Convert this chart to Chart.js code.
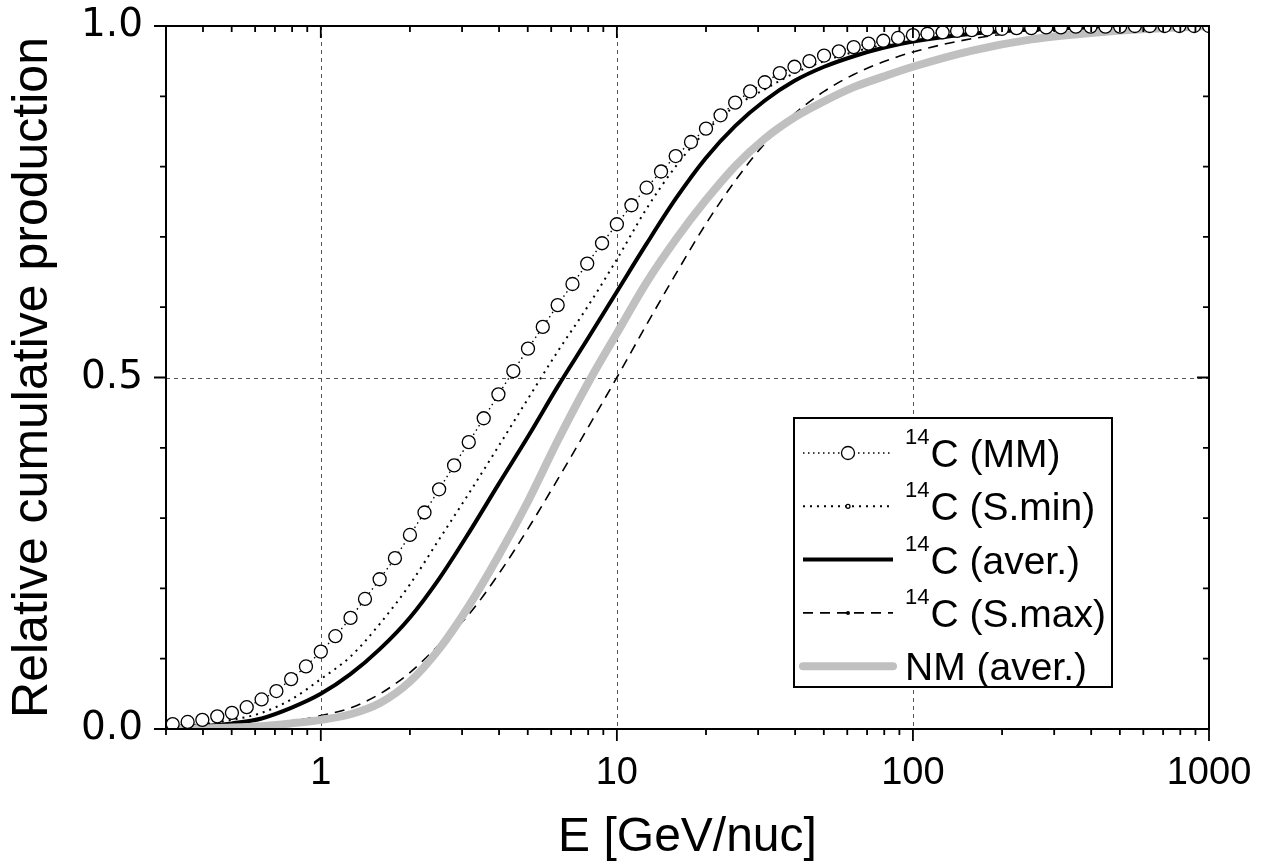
<!DOCTYPE html>
<html><head><meta charset="utf-8">
<script src="https://cdn.jsdelivr.net/npm/chart.js@4.4.1/dist/chart.umd.min.js"></script>
<style>html,body{margin:0;padding:0;background:#fff;}canvas{display:block;}</style>
</head><body>
<canvas id="c" width="1263" height="867"></canvas>
<script>
// ---- data ----
const circleEnergies = [0.316,0.355,0.398,0.447,0.501,0.562,0.631,0.708,0.794,0.891,
  1,1.12,1.26,1.41,1.58,1.78,2,2.24,2.51,2.82,3.16,3.55,3.98,4.47,5.01,5.62,6.31,7.08,7.94,8.91,
  10,11.2,12.6,14.1,15.8,17.8,20,22.4,25.1,28.2,31.6,35.5,39.8,44.7,50.1,56.2,63.1,70.8,79.4,89.1,
  100,112,126,141,158,178,200,224,251,282,316,355,398,447,501,562,631,708,794,891,1000];
const mmValues = [0.007,0.010,0.013,0.018,0.023,0.031,0.042,0.054,0.071,0.089,
  0.110,0.132,0.158,0.185,0.213,0.243,0.276,0.308,0.341,0.375,
  0.408,0.442,0.476,0.509,0.541,0.572,0.603,0.633,0.662,0.691,
  0.718,0.745,0.770,0.793,0.815,0.835,0.854,0.873,0.891,0.907,
  0.920,0.933,0.942,0.950,0.958,0.964,0.970,0.975,0.979,0.983,
  0.987,0.989,0.991,0.993,0.994,0.995,0.996,0.997,0.997,0.998,
  0.998,0.999,0.999,0.999,0.999,1.0,1.0,1.0,1.0,1.0,1.0];
const lineEnergies = [0.3,0.398,0.501,0.631,0.794,1,1.259,1.585,1.995,2.512,3.162,3.981,5.012,6.31,7.943,
  10,12.59,15.85,19.95,25.12,31.62,39.81,50.12,63.1,79.43,100,158.5,251.2,398.1,631,1000];
const sminValues = [0.004,0.007,0.013,0.023,0.042,0.071,0.103,0.150,0.205,0.270,0.335,0.402,0.470,0.537,0.600,
  0.668,0.740,0.801,0.850,0.886,0.910,0.933,0.950,0.963,0.973,0.980,0.990,0.996,0.998,0.999,1.0];
const averValues = [0.002,0.004,0.008,0.015,0.030,0.050,0.078,0.114,0.158,0.214,0.279,0.348,0.416,0.487,0.554,
  0.622,0.690,0.755,0.812,0.858,0.894,0.922,0.942,0.957,0.969,0.978,0.989,0.995,0.998,0.999,1.0];
const smaxValues = [0.001,0.002,0.003,0.006,0.011,0.019,0.030,0.050,0.080,0.120,0.163,0.220,0.285,0.355,0.427,
  0.500,0.575,0.648,0.718,0.780,0.833,0.875,0.907,0.931,0.949,0.963,0.982,0.992,0.997,0.999,1.0];
const nmValues = [0.000,0.001,0.002,0.004,0.008,0.013,0.021,0.037,0.067,0.114,0.175,0.246,0.324,0.410,0.490,
  0.563,0.635,0.697,0.752,0.801,0.840,0.870,0.893,0.913,0.928,0.942,0.965,0.981,0.990,0.996,1.0];
const xTickLabels = [1, 10, 100, 1000];
const yTickLabels = [0, 0.5, 1.0];
const xGrid = [1, 10, 100];
const yGrid = [0.5];
const legendItems = [
  {sup:'14', text:'C (MM)', ds:0, marker:'bigCircle'},
  {sup:'14', text:'C (S.min)', ds:1, marker:'smallCircle'},
  {sup:'14', text:'C (aver.)', ds:2, marker:'none'},
  {sup:'14', text:'C (S.max)', ds:3, marker:'dot'},
  {sup:'', text:'NM (aver.)', ds:4, marker:'none'}
];

const FONT = "Arial, 'Liberation Sans', Helvetica, sans-serif";
const pts = (xs, ys) => xs.map((e, i) => ({x: e, y: ys[i]}));
const noPad = s => { s.paddingTop = 0; s.paddingBottom = 0; s.paddingLeft = 0; s.paddingRight = 0; };

const decor = {
  id: 'decor',
  beforeDatasetsDraw(chart) {
    const {ctx, chartArea: a, scales: {x, y}} = chart;
    ctx.save();
    ctx.strokeStyle = '#555'; ctx.lineWidth = 1; ctx.setLineDash([4, 4]);
    xGrid.forEach(v => { const p = Math.round(x.getPixelForValue(v)) + 0.5;
      ctx.beginPath(); ctx.moveTo(p, a.top); ctx.lineTo(p, a.bottom); ctx.stroke(); });
    yGrid.forEach(v => { const p = Math.round(y.getPixelForValue(v)) + 0.5;
      ctx.beginPath(); ctx.moveTo(a.left, p); ctx.lineTo(a.right, p); ctx.stroke(); });
    ctx.restore();
  },
  afterDraw(chart) {
    const {ctx, chartArea: a, scales: {x, y}} = chart;
    ctx.save();
    ctx.strokeStyle = '#000'; ctx.lineWidth = 2; ctx.setLineDash([]);
    ctx.strokeRect(a.left, a.top, a.right - a.left, a.bottom - a.top);
    const xt = [];
    for (let d = 0.1; d <= 100; d *= 10) for (let m = 1; m <= 9; m++) {
      const v = +(m * d).toPrecision(3); if (v >= 0.3 && v <= 1000) xt.push({v, major: m === 1});
    }
    xt.push({v: 1000, major: true});
    ctx.lineWidth = 1.8;
    xt.forEach(t => { const p = x.getPixelForValue(t.v); const L = t.major ? 12 : 6;
      ctx.beginPath(); ctx.moveTo(p, a.bottom); ctx.lineTo(p, a.bottom + L);
      ctx.moveTo(p, a.top); ctx.lineTo(p, a.top + L); ctx.stroke(); });
    for (let i = 0; i <= 10; i++) { const v = i / 10; const p = y.getPixelForValue(v);
      const L = (i % 5 === 0) ? 12 : 6;
      ctx.beginPath(); ctx.moveTo(a.left - L, p); ctx.lineTo(a.left, p);
      ctx.moveTo(a.right, p); ctx.lineTo(a.right - L, p); ctx.stroke(); }
    // legend
    const bx0 = a.right - 415, bx1 = a.right - 97, by0 = a.top + 392, by1 = a.top + 661;
    ctx.fillStyle = '#fff'; ctx.fillRect(bx0, by0, bx1 - bx0, by1 - by0);
    ctx.lineWidth = 2; ctx.strokeStyle = '#000'; ctx.strokeRect(bx0, by0, bx1 - bx0, by1 - by0);
    legendItems.forEach((it, i) => {
      const ds = chart.data.datasets[it.ds];
      const ry = by0 + 35 + i * 53.3;
      const l0 = bx0 + 9, l1 = bx0 + 99, cx = (l0 + l1) / 2;
      ctx.save();
      ctx.strokeStyle = ds.borderColor; ctx.lineWidth = ds.borderWidth;
      ctx.setLineDash(ds.borderDash || []); ctx.lineCap = ds.borderCapStyle || 'butt';
      ctx.beginPath(); ctx.moveTo(l0, ry); ctx.lineTo(l1, ry); ctx.stroke();
      ctx.setLineDash([]); ctx.lineWidth = 1.3; ctx.strokeStyle = '#000';
      if (it.marker === 'bigCircle') { ctx.fillStyle = '#fff'; ctx.beginPath(); ctx.arc(cx, ry, 6.5, 0, 2 * Math.PI); ctx.fill(); ctx.stroke(); }
      if (it.marker === 'smallCircle') { ctx.fillStyle = '#fff'; ctx.beginPath(); ctx.arc(cx, ry, 2, 0, 2 * Math.PI); ctx.fill(); ctx.stroke(); }
      if (it.marker === 'dot') { ctx.fillStyle = '#000'; ctx.beginPath(); ctx.arc(cx, ry, 2, 0, 2 * Math.PI); ctx.fill(); }
      ctx.restore();
      ctx.fillStyle = '#000'; ctx.textAlign = 'left'; ctx.textBaseline = 'alphabetic';
      let tx = bx0 + 111;
      if (it.sup) { ctx.font = '22px ' + FONT; ctx.fillText(it.sup, tx, ry - 9); tx += ctx.measureText(it.sup).width + 1; }
      ctx.font = '39px ' + FONT; ctx.fillText(it.text, tx, ry + 14);
    });
    ctx.restore();
  }
};

new Chart(document.getElementById('c'), {
  type: 'line',
  data: {
    datasets: [
      {label: '14C (MM)', data: pts(circleEnergies, mmValues), borderColor: '#000', borderWidth: 1.4,
        borderDash: [1.5, 3.5], pointRadius: 6.5, pointBackgroundColor: '#fff', pointBorderColor: '#000',
        pointBorderWidth: 1.3, tension: 0, order: 0},
      {label: '14C (S.min)', data: pts(lineEnergies, sminValues), borderColor: '#000', borderWidth: 2,
        borderDash: [2, 5], pointRadius: 0, cubicInterpolationMode: 'monotone', order: 3},
      {label: '14C (aver.)', data: pts(lineEnergies, averValues), borderColor: '#000', borderWidth: 4,
        pointRadius: 0, cubicInterpolationMode: 'monotone', order: 2},
      {label: '14C (S.max)', data: pts(lineEnergies, smaxValues), borderColor: '#000', borderWidth: 1.6,
        borderDash: [10, 7], pointRadius: 0, cubicInterpolationMode: 'monotone', order: 4},
      {label: 'NM (aver.)', data: pts(lineEnergies, nmValues), borderColor: '#c0c0c0', borderWidth: 8,
        borderCapStyle: 'round', pointRadius: 0, cubicInterpolationMode: 'monotone', order: 1}
    ]
  },
  options: {
    responsive: false, animation: false, devicePixelRatio: 1,
    layout: {padding: {top: 26, right: 54, left: 0, bottom: 0}},
    plugins: {legend: {display: false}, tooltip: {enabled: false}},
    scales: {
      x: {
        type: 'logarithmic', min: 0.3, max: 1000,
        grid: {display: false}, border: {display: false},
        afterBuildTicks: s => { s.ticks = xTickLabels.map(v => ({value: v})); },
        afterFit: s => { s.height = 138; noPad(s); },
        ticks: {autoSkip: false, maxRotation: 0, padding: 14, color: '#000',
          font: {size: 38, family: FONT}, callback: v => String(v)},
        title: {display: true, text: 'E [GeV/nuc]', color: '#000', font: {size: 48, family: FONT}, padding: 0}
      },
      y: {
        min: 0, max: 1,
        grid: {display: false}, border: {display: false},
        afterBuildTicks: s => { s.ticks = yTickLabels.map(v => ({value: v})); },
        afterFit: s => { s.width = 166; noPad(s); },
        ticks: {padding: 15, color: '#000', font: {size: 39, family: "'DejaVu Sans', Verdana, sans-serif"},
          callback: v => Number(v).toFixed(1)},
        title: {display: true, text: 'Relative cumulative production', color: '#000',
          font: {size: 50, family: FONT}, padding: {top: 3, bottom: 0}}
      }
    }
  },
  plugins: [decor]
});
</script>
</body></html>
